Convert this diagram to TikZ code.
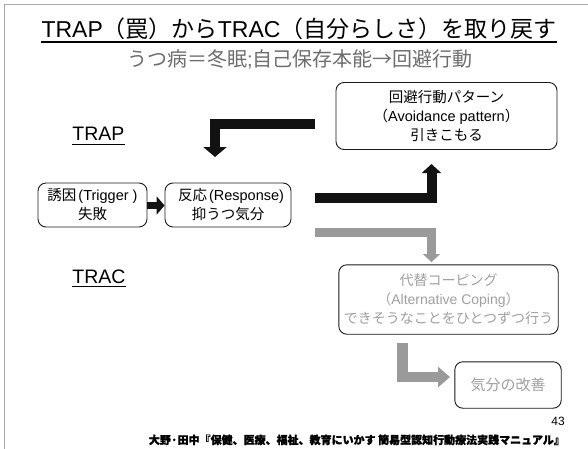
\documentclass[tikz,border=0pt]{standalone}
\usepackage{fontspec}
\setmainfont{Liberation Sans}
\newfontfamily\jp{Noto Sans CJK JP}
\newfontfamily\jpheavy{Noto Sans CJK JP}[BoldFeatures={FakeBold=1.2}]
\usetikzlibrary{arrows.meta}
\definecolor{arrowgray}{HTML}{9A9A9A}
\definecolor{textgray}{HTML}{A0A0A0}
\definecolor{subgray}{HTML}{6E6E6E}
\definecolor{framegray}{HTML}{A8A8A8}
\definecolor{boxline}{HTML}{1A1A1A}
\newcommand\en[1]{{\rmfamily #1}}
\begin{document}
\begin{tikzpicture}[x=1pt,y=-1pt,
  box/.style={draw=boxline, line width=0.9pt, rounded corners=8pt, align=center,
    inner sep=0pt, font=\jp\fontsize{14.5}{19}\selectfont},
  palebox/.style={align=center, inner sep=0pt, text=textgray,
    font=\jp\fontsize{14}{19}\selectfont},
  paleframe/.style={draw=boxline, line width=0.9pt, rounded corners=8pt},
  blkarrow/.style={draw=black!93, line width=10pt, -{Triangle[width=23pt,length=10pt]}},
  grayarrow/.style={draw=arrowgray, line width=9.5pt, -{Triangle[width=19pt,length=9pt]}},
  label/.style={anchor=base, inner sep=0pt, font=\fontsize{19.5}{20}\selectfont}
]
\useasboundingbox (0,0) rectangle (588,448);
\fill[white] (0,0) rectangle (588,448);
\clip (0,0) rectangle (588,448);

% slide frame
\draw[framegray, line width=1pt] (4,452) -- (4,4) -- (592,4);

% heading and subheading
\node[anchor=base, inner sep=0pt, font=\fontsize{23}{24}\selectfont] (title) at (299,37)
  {TRAP{\jp （罠）から}TRAC{\jp （自分らしさ）を取り戻す}};
\draw[line width=1.3pt] ([yshift=-5pt]title.base west) -- ([yshift=-5pt]title.base east);
\node[anchor=base, inner sep=0pt, text=subgray, font=\jp\fontsize{20}{21}\selectfont] (sub) at (300,66.5)
  {うつ病＝冬眠\en{;}自己保存本能→回避行動};

% side labels
\node[label] (trap) at (98.5,140.5) {TRAP};
\draw[line width=1pt] ([yshift=-4pt]trap.base west) -- ([yshift=-4pt]trap.base east);
\node[label] (trac) at (99,283) {TRAC};
\draw[line width=1pt] ([yshift=-3.5pt]trac.base west) -- ([yshift=-3.5pt]trac.base east);

% boxes
\node[box, minimum width=109pt, minimum height=44pt] (trig) at (92.5,205)
  {誘因\en{\hspace{2pt}(Trigger )}\\失敗};
\node[box, minimum width=126pt, minimum height=44pt] (resp) at (228,205)
  {\hspace{6pt}反応\en{\hspace{2pt}(Response)}\\抑うつ気分};
\node[box, minimum width=221pt, minimum height=67pt] (avoid) at (446.5,116)
  {回避行動パターン\\（\en{Avoidance pattern}）\\引きこもる};
\node[palebox, minimum width=219pt, minimum height=69pt] (coping) at (448.5,299.5)
  {代替コーピング\\（\en{Alternative Coping}）\\できそうなことをひとつずつ行う};
\node[palebox, minimum width=106pt, minimum height=46pt, font=\jp\fontsize{15}{19}\selectfont] (kibun) at (508,385)
  {気分の改善};
\draw[paleframe] (coping.south west) rectangle (coping.north east);
\draw[paleframe] (kibun.south west) rectangle (kibun.north east);

% bend points and free ends of the thick arrows
\coordinate (a1s) at (315,124);
\coordinate (a1t) at (215,157);
\coordinate (a2s) at (315,197.5);
\coordinate (a2t) at (431.5,164);
\coordinate (a3s) at (315,232.5);
\coordinate (a3t) at (431.5,262);
\coordinate (a4s) at (402.5,343);
\coordinate (a4t) at (450,377);

% arrows
\draw[draw=black!93, line width=7pt, -{Triangle[width=18pt,length=8pt]}]
  (trig.east |- 0,205.5) -- (resp.west |- 0,205.5);
\draw[blkarrow] (a1s) -| (a1t);
\draw[blkarrow, -{Triangle[width=19pt,length=9pt]}] (a2s) -| (a2t);
\draw[grayarrow, -{Triangle[width=17pt,length=8pt]}] (a3s) -| (a3t);
\draw[grayarrow, line width=10.5pt, -{Triangle[width=20pt,length=12pt]}] (a4s) |- (a4t);

% page number and source
\node[anchor=base east, inner sep=0pt, font=\fontsize{12}{12}\selectfont] (pnum) at (565,425) {43};
\node[anchor=base east, inner sep=0pt, font=\jpheavy\bfseries\fontsize{11}{12}\selectfont] (src) at (565,444)
  {大野·田中『保健、医療、福祉、教育にいかす 簡易型認知行動療法実践マニュアル』};
\end{tikzpicture}
\end{document}
